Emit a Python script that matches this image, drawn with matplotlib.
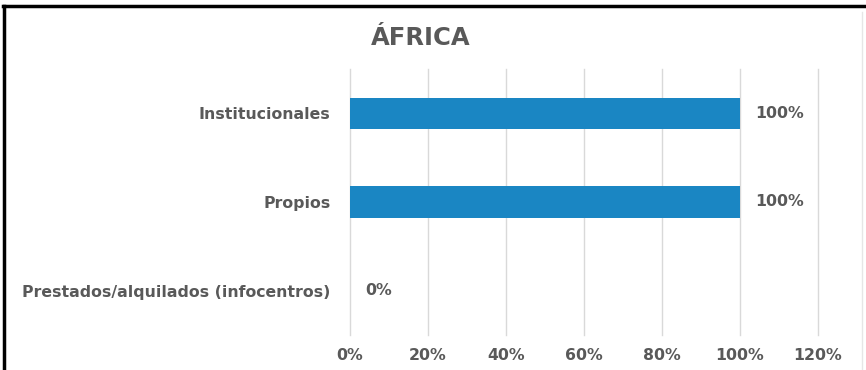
import matplotlib
matplotlib.use("Agg")
import matplotlib.pyplot as plt
from matplotlib.lines import Line2D
from matplotlib.ticker import FuncFormatter

# ── Daten ─────────────────────────────────────────────────────────────────────
kategorien = ["Prestados/alquilados (infocentros)", "Propios", "Institucionales"]
werte = [0, 100, 100]
x_ticks = [0, 20, 40, 60, 80, 100, 120]

grau = "#595959"
blau = "#1A86C3"
plt.rcParams["font.family"] = ["DejaVu Sans"]

fig = plt.figure(figsize=(8.66, 3.70), dpi=100)
ax = fig.add_axes([350 / 866, 1 - 335 / 370, (818 - 350) / 866, (335 - 69) / 370])

pos = range(len(kategorien))
ax.barh(pos, werte, height=0.35, color=blau, zorder=3)

ax.set_xlim(0, 120)
ax.set_ylim(-0.5, len(kategorien) - 0.5)
ax.set_xticks(x_ticks)
ax.xaxis.set_major_formatter(FuncFormatter(lambda v, p: f"{int(v)}%"))
ax.set_yticks(list(pos))
ax.set_yticklabels(kategorien)

for lbl in ax.get_xticklabels() + ax.get_yticklabels():
    lbl.set_fontweight("bold")
    lbl.set_color(grau)
    lbl.set_fontsize(11.3)

ax.tick_params(axis="both", length=0)
ax.tick_params(axis="y", pad=14)
ax.tick_params(axis="x", pad=9)
ax.grid(axis="x", color="#d9d9d9", linewidth=1, zorder=0)
for gl in ax.get_xgridlines():
    gl.set_clip_on(False)
for s in ax.spines.values():
    s.set_visible(False)

# Wertebeschriftungen
for p, w in zip(pos, werte):
    ax.text(w + 3.8, p, f"{w}%", va="center", ha="left", fontsize=11.3,
            fontweight="bold", color=grau)

fig.text(421 / 866, 1 - 38 / 370, "ÁFRICA", ha="center", va="center",
         fontsize=17.5, fontweight="bold", color=grau)

# Rahmen (oben/links schwarz, rechts hellgrau)
fig.add_artist(Line2D([0.004, 1], [1 - 6 / 370, 1 - 6 / 370], color="black", linewidth=2.5))
fig.add_artist(Line2D([4 / 866, 4 / 866], [0, 1 - 6 / 370], color="black", linewidth=2.5))
fig.add_artist(Line2D([862 / 866, 862 / 866], [0, 1 - 12 / 370], color="#e6e6e6", linewidth=1))

fig.savefig("out.png", dpi=100)
